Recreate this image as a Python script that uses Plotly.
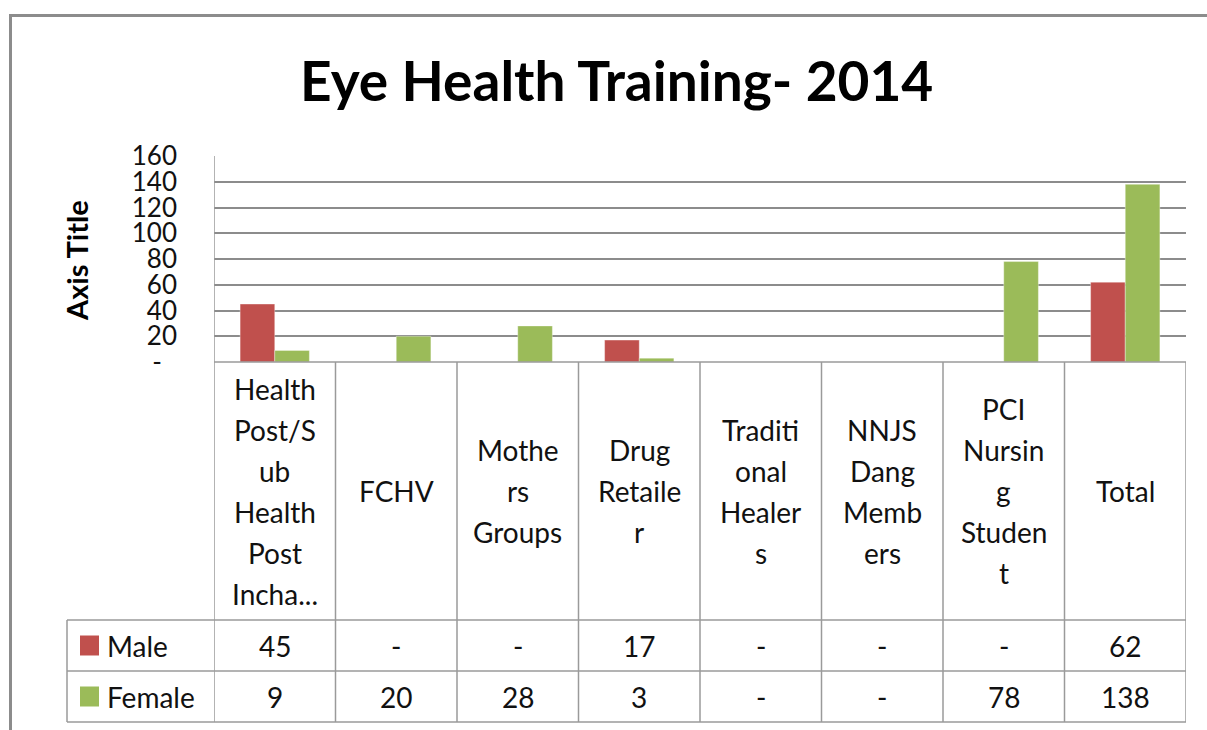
import plotly.graph_objects as go

# ---------------- data ----------------
categories = [
    "Health Post/Sub Health Post Incharge",
    "FCHV",
    "Mothers Groups",
    "Drug Retailer",
    "Traditional Healers",
    "NNJS Dang Members",
    "PCI Nursing Student",
    "Total",
]
category_lines = [
    ["Health", "Post/S", "ub", "Health", "Post", "Incha..."],
    ["FCHV"],
    ["Mothe", "rs", "Groups"],
    ["Drug", "Retaile", "r"],
    ["Traditi", "onal", "Healer", "s"],
    ["NNJS", "Dang", "Memb", "ers"],
    ["PCI", "Nursin", "g", "Studen", "t"],
    ["Total"],
]
series_names = ["Male", "Female"]
male = [45, 0, 0, 17, 0, 0, 0, 62]
female = [9, 20, 28, 3, 0, 0, 78, 138]
series_colors = ["#C0504D", "#9BBB59"]
y_ticks = [0, 20, 40, 60, 80, 100, 120, 140, 160]
y_ticktext = ["-\u2007", "20", "40", "60", "80", "100", "120", "140", "160"]

# ---------------- layout geometry (pixels) ----------------
FW, FH = 1207, 730
L, R, T, B = 214, 1186, 156, 362
W, H = R - L, B - T
FONT = "Lato"
GRID = "#8C8C8C"
TBL = "#9A9A9A"


def px(xpix):
    return (xpix - L) / W


def py(ypix):
    return (B - ypix) / H


n = len(categories)
xs = list(range(n))

fig = go.Figure()
for name, vals, col in zip(series_names, [male, female], series_colors):
    fig.add_trace(go.Bar(
        x=xs, y=vals, name=name,
        marker=dict(color=col, line=dict(color="rgba(255,255,255,0.35)", width=1)),
        showlegend=False, hoverinfo="skip",
    ))

shapes = []
annotations = []

# outer chart border
shapes.append(dict(type="line", xref="paper", yref="paper",
                   x0=px(9), x1=px(FW + 5), y0=py(15.5), y1=py(15.5),
                   line=dict(color="#8C8C8C", width=3)))
shapes.append(dict(type="line", xref="paper", yref="paper",
                   x0=px(10.5), x1=px(10.5), y0=py(14), y1=py(FH + 5),
                   line=dict(color="#8C8C8C", width=3)))

# table rows
row_header_bottom = 620
row_male_bottom = 671
row_female_bottom = 722
legend_left = 67

# vertical column lines (tied to category axis)
for i in range(n + 1):
    xv = i - 0.5
    y0 = py(T) if i == 0 else py(B)
    shapes.append(dict(type="line", xref="x", yref="paper",
                       x0=xv, x1=xv, y0=y0, y1=py(row_female_bottom),
                       line=dict(color=TBL, width=1.5)))
# legend column left border
shapes.append(dict(type="line", xref="paper", yref="paper",
                   x0=px(legend_left), x1=px(legend_left),
                   y0=py(row_header_bottom), y1=py(row_female_bottom),
                   line=dict(color=TBL, width=1.5)))
# horizontal table lines
shapes.append(dict(type="line", xref="paper", yref="paper",
                   x0=0, x1=1, y0=0, y1=0, line=dict(color=TBL, width=1.5)))
for yy in [row_header_bottom, row_male_bottom, row_female_bottom]:
    shapes.append(dict(type="line", xref="paper", yref="paper",
                       x0=px(legend_left), x1=1, y0=py(yy), y1=py(yy),
                       line=dict(color=TBL, width=1.5)))

# header text (category names), 41 px line pitch, centred in header cell
LINE_PITCH = 41
header_mid = (B + row_header_bottom) / 2
for i, lines in enumerate(category_lines):
    k = len(lines)
    for j, t in enumerate(lines):
        ycen = header_mid + (j - (k - 1) / 2) * LINE_PITCH
        annotations.append(dict(x=i, xref="x", y=py(ycen), yref="paper",
                                text=t, showarrow=False, xanchor="center", yanchor="middle",
                                font=dict(family=FONT, size=28, color="#111")))

# value rows + legend keys
row_mids = [(row_header_bottom + row_male_bottom) / 2, (row_male_bottom + row_female_bottom) / 2]
for name, vals, col, ym in zip(series_names, [male, female], series_colors, row_mids):
    for i, v in enumerate(vals):
        annotations.append(dict(x=i, xref="x", y=py(ym), yref="paper",
                                text=("-" if not v else str(v)), showarrow=False,
                                xanchor="center", yanchor="middle",
                                font=dict(family=FONT, size=28, color="#111")))
    shapes.append(dict(type="rect", xref="paper", yref="paper",
                       x0=px(80), x1=px(99), y0=py(ym - 10), y1=py(ym + 10),
                       fillcolor=col, line=dict(width=0)))
    annotations.append(dict(x=px(105), xref="paper", y=py(ym), yref="paper",
                            text=name, showarrow=False, xanchor="left", yanchor="middle",
                            font=dict(family=FONT, size=28, color="#111")))

# title
annotations.append(dict(x=px(616), xref="paper", y=py(80), yref="paper",
                        text="<b>Eye Health Training- 2014</b>", showarrow=False,
                        xanchor="center", yanchor="middle",
                        font=dict(family=FONT, size=55, color="#000")))
# axis title
annotations.append(dict(x=px(76), xref="paper", y=py(261), yref="paper",
                        text="<b>Axis Title</b>", showarrow=False, textangle=-90,
                        xanchor="center", yanchor="middle",
                        font=dict(family=FONT, size=29, color="#000")))

fig.update_layout(
    width=FW, height=FH,
    paper_bgcolor="white", plot_bgcolor="white",
    margin=dict(l=L, r=FW - R, t=T, b=FH - B, autoexpand=False),
    barmode="group", bargap=0.43, bargroupgap=0,
    shapes=shapes, annotations=annotations,
    showlegend=False,
    font=dict(family=FONT, color="#111"),
)
fig.update_xaxes(range=[-0.5, n - 0.5], showticklabels=False, showgrid=False,
                 zeroline=False, showline=False, ticks="", automargin=False)
fig.update_yaxes(range=[0, 160], tickvals=y_ticks, ticktext=y_ticktext,
                 showgrid=True, gridcolor=GRID, gridwidth=1.5, zeroline=False,
                 showline=False, ticks="", ticklabelstandoff=36,
                 tickfont=dict(family=FONT, size=26, color="#111"), automargin=False)

fig.write_html(
    "out.html",
    config={"displayModeBar": False},
    post_script="document.body.style.margin='0';document.body.style.padding='0';"
                "document.body.style.overflow='hidden';",
)
